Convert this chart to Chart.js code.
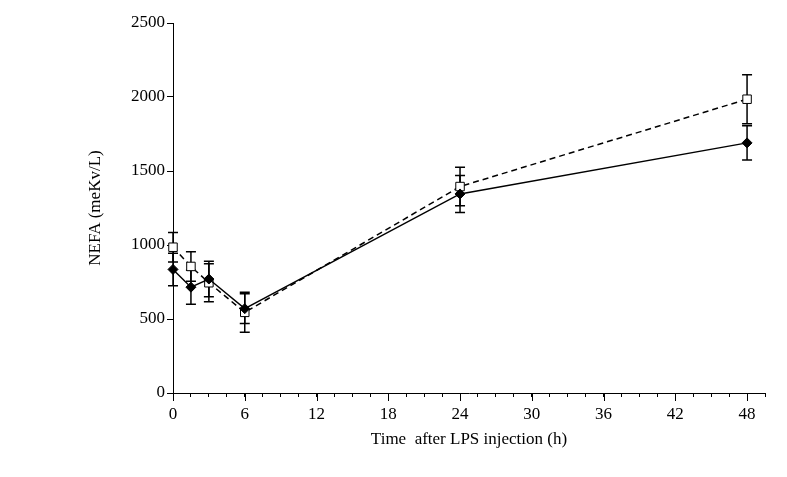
<!DOCTYPE html>
<html>
<head>
<meta charset="utf-8">
<script src="https://cdn.jsdelivr.net/npm/chart.js@4.4.1/dist/chart.umd.min.js"></script>
<style>
  html, body { margin: 0; padding: 0; background: #fff; }
  #wrap { width: 787px; height: 477px; }
</style>
</head>
<body>
<div id="wrap"><canvas id="nefaChart" width="787" height="477"></canvas></div>
<script>
// hours after LPS injection
const hours = [0, 1.5, 3, 6, 24, 48];
// filled diamonds, solid line
const filledMean = [835, 715, 770, 570, 1345, 1690];
const filledErr = [110, 115, 120, 100, 125, 115];
// open squares, dashed line
const openMean = [985, 855, 745, 545, 1395, 1985];
const openErr = [100, 100, 128, 135, 130, 165];

const xMajorStep = 6;
const xMinorStep = 1.5;
const yStep = 500;

const serif = "'Liberation Serif', 'Times New Roman', serif";

function toPoints(means) {
  return hours.map((h, i) => ({ x: h, y: means[i] }));
}

// vertical error bars with caps, drawn from the scales
const errorBars = {
  id: 'errorBars',
  beforeDatasetsDraw(chart) {
    const ctx = chart.ctx;
    const xs = chart.scales.x, ys = chart.scales.y;
    const sets = [[filledMean, filledErr], [openMean, openErr]];
    ctx.save();
    ctx.strokeStyle = '#000';
    ctx.lineWidth = 1.5;
    sets.forEach(([m, e]) => {
      hours.forEach((h, i) => {
        const px = xs.getPixelForValue(h);
        const top = ys.getPixelForValue(m[i] + e[i]);
        const bot = ys.getPixelForValue(m[i] - e[i]);
        ctx.beginPath();
        ctx.moveTo(px, top); ctx.lineTo(px, bot);
        ctx.moveTo(px - 5, top); ctx.lineTo(px + 5, top);
        ctx.moveTo(px - 5, bot); ctx.lineTo(px + 5, bot);
        ctx.stroke();
      });
    });
    ctx.restore();
  }
};

// longer ticks at the labelled hours
const majorTicks = {
  id: 'majorTicks',
  afterDraw(chart) {
    const ctx = chart.ctx;
    const xs = chart.scales.x;
    const y0 = chart.chartArea.bottom;
    ctx.save();
    ctx.strokeStyle = '#000';
    ctx.lineWidth = 1;
    for (let v = 0; v <= 48; v += xMajorStep) {
      const px = Math.round(xs.getPixelForValue(v)) + 0.5;
      ctx.beginPath();
      ctx.moveTo(px, y0);
      ctx.lineTo(px, y0 + 8);
      ctx.stroke();
    }
    ctx.restore();
  }
};

new Chart(document.getElementById('nefaChart'), {
  type: 'line',
  data: {
    datasets: [
      {
        data: toPoints(filledMean),
        borderColor: '#000',
        borderWidth: 1.5,
        pointStyle: 'rectRot',
        pointRadius: 5,
        pointBackgroundColor: '#000',
        pointBorderColor: '#000',
        pointBorderWidth: 1,
        tension: 0,
        clip: false
      },
      {
        data: toPoints(openMean),
        borderColor: '#000',
        borderWidth: 1.5,
        borderDash: [6, 4],
        pointStyle: 'rect',
        pointRadius: 6,
        pointBackgroundColor: '#fff',
        pointBorderColor: '#000',
        pointBorderWidth: 1,
        tension: 0,
        clip: false
      }
    ]
  },
  options: {
    responsive: false,
    animation: false,
    layout: { padding: { top: 23, right: 22, left: 0, bottom: 0 } },
    plugins: { legend: { display: false }, tooltip: { enabled: false } },
    scales: {
      x: {
        type: 'linear',
        min: 0,
        max: 49.5,
        afterFit(scale) { scale.height = 84; },
        border: { color: '#000', width: 1 },
        grid: { drawOnChartArea: false, tickLength: 4, tickColor: '#000' },
        ticks: {
          stepSize: xMinorStep,
          autoSkip: false,
          maxRotation: 0,
          padding: 7,
          color: '#000',
          font: { family: serif, size: 17 },
          callback: v => (v % xMajorStep === 0 ? String(v) : '')
        },
        title: {
          display: true,
          text: 'Time  after LPS injection (h)',
          color: '#000',
          font: { family: serif, size: 17 },
          padding: { top: 4, bottom: 27 }
        }
      },
      y: {
        min: 0,
        max: 2500,
        afterFit(scale) { scale.width = 173; },
        border: { color: '#000', width: 1 },
        grid: { drawOnChartArea: false, tickLength: 6, tickColor: '#000' },
        ticks: {
          stepSize: yStep,
          padding: 2,
          color: '#000',
          font: { family: serif, size: 17 },
          callback: v => String(v)
        },
        title: {
          display: true,
          text: 'NEFA (meKv/L)',
          color: '#000',
          font: { family: serif, size: 17 },
          padding: { top: 85, bottom: 0 }
        }
      }
    }
  },
  plugins: [errorBars, majorTicks]
});
</script>
</body>
</html>
